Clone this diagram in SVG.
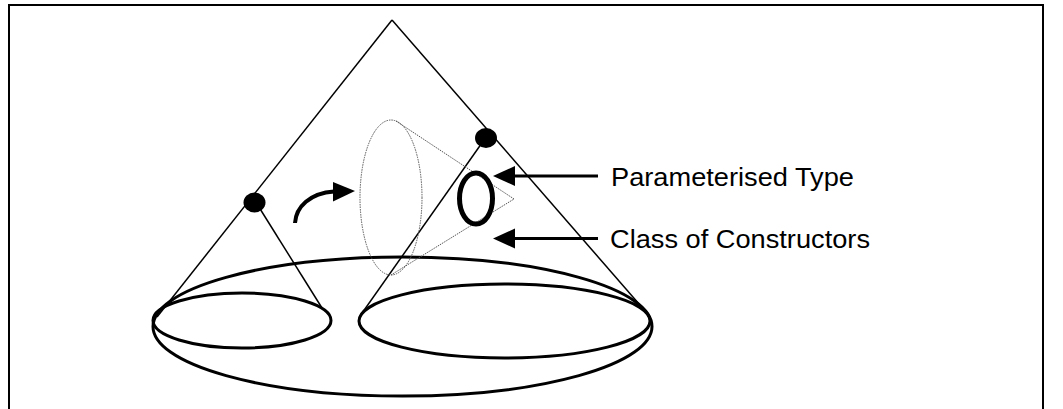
<svg xmlns="http://www.w3.org/2000/svg" width="1063" height="409" viewBox="0 0 1063 409">
<style>
.thin{fill:none;stroke:#000;stroke-width:1.5}
.thick{fill:none;stroke:#000;stroke-width:3}
.dot{fill:none;stroke:#555;stroke-width:1;stroke-dasharray:1.5 1}
.dotfill{fill:#000}
.lbl{font-family:"Liberation Sans",Arial,sans-serif;font-size:25px;fill:#000}
</style>
<rect width="1063" height="409" fill="#fff"/>
<path d="M9,409 V5 H1043 V409" fill="none" stroke="#000" stroke-width="2"/>
<g id="cone">
<line class="thin" x1="392" y1="20" x2="157" y2="317"/>
<line class="thin" x1="392" y1="20" x2="646" y2="312"/>
</g>
<g id="big-ellipse"><ellipse class="thick" cx="402.5" cy="326.5" rx="249.5" ry="69.5"/></g>
<g id="left-subcone">
<line class="thin" x1="257" y1="204" x2="322" y2="308"/>
<ellipse class="thick" cx="242" cy="320.5" rx="89" ry="27.5"/>
<ellipse class="dotfill" cx="254.5" cy="202.5" rx="11" ry="10"/>
</g>
<g id="right-subcone">
<line class="thin" x1="484" y1="140" x2="360" y2="316"/>
<ellipse class="thick" cx="504.5" cy="321" rx="145.5" ry="37"/>
<ellipse class="dotfill" cx="486" cy="138" rx="11" ry="10"/>
</g>
<g id="dotted-cone">
<ellipse class="dot" cx="391" cy="197.5" rx="31" ry="77.5"/>
<line class="dot" x1="396" y1="121" x2="514" y2="199"/>
<line class="dot" x1="391" y1="275" x2="514" y2="199"/>
</g>
<g id="param-type-ring"><ellipse cx="476" cy="198.5" rx="16.5" ry="25.5" fill="none" stroke="#000" stroke-width="5"/></g>
<g id="connectors">
<path d="M295,223 C296,207 310,193 334,191.5" fill="none" stroke="#000" stroke-width="4"/>
<path d="M333,182 L355,191 L333,201.5 Z" fill="#000"/>
<line x1="598" y1="176" x2="514" y2="176" stroke="#000" stroke-width="3"/>
<path d="M515,166 L493,176 L515,186 Z" fill="#000"/>
<line x1="598" y1="238.5" x2="514" y2="238.5" stroke="#000" stroke-width="3"/>
<path d="M515,228.5 L493,238.5 L515,248.5 Z" fill="#000"/>
</g>
<g id="labels">
<text class="lbl" x="611" y="185.5" textLength="243" lengthAdjust="spacingAndGlyphs">Parameterised Type</text>
<text class="lbl" x="610" y="248" textLength="260" lengthAdjust="spacingAndGlyphs">Class of Constructors</text>
</g>
</svg>
